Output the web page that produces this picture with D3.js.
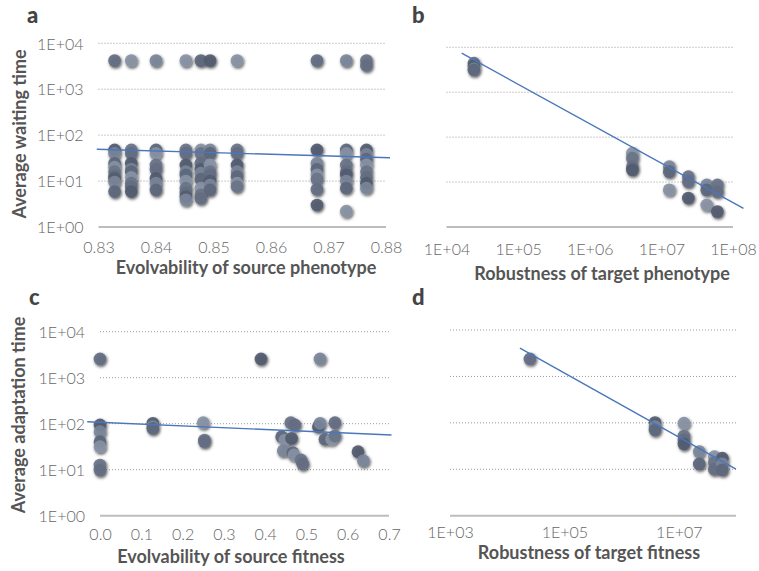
<!DOCTYPE html>
<html><head><meta charset="utf-8">
<script src="https://cdn.jsdelivr.net/npm/d3@7"></script>
<style>
body{margin:0;background:#fff;}
svg{display:block;font-family:Lato,"Open Sans",sans-serif;}
.tick text{font-family:Lato,"Open Sans",sans-serif;font-weight:300;fill:#666;font-size:16px;}
</style></head><body>
<svg id="c" width="759" height="571"></svg>
<script>
// ---------- data ----------
const yTicks = [1, 10, 100, 1000, 10000];
const aXTicks = [0.83, 0.84, 0.85, 0.86, 0.87, 0.88];
const bXTicks = [1e4, 1e5, 1e6, 1e7, 1e8];
const cXTicks = [0, 0.1, 0.2, 0.3, 0.4, 0.5, 0.6, 0.7];
const dXTicks = [1e3, 1e5, 1e7];

// panel a: evolvability of source phenotype (columns) vs waiting time
const aX = [0.8328, 0.8357, 0.8400, 0.8452, 0.8478, 0.8494, 0.8541, 0.8680, 0.8731, 0.8766];
const aY = [
  [4200, 47.6, 40, 24.4, 20, 16.0, 13, 11.5, 9.5, 5.9],
  [4200, 47.6, 40, 24.4, 18, 16.0, 12, 9.0, 7.5, 5.9],
  [4200, 47.6, 40, 22.4, 18, 11.5, 9, 6.4],
  [4200, 47.6, 40, 22.4, 16, 13.6, 10, 7.0, 5.5, 4.6, 3.9],
  [4200, 47.6, 40, 24.4, 18, 14.8, 11, 7.0, 5, 4.2],
  [4200, 47.6, 40, 22.4, 16, 13.6, 10, 8.2, 6.4],
  [4200, 47.6, 40, 22.4, 16, 12.5, 9, 7.6],
  [4200, 47.6, 24.4, 18, 13.6, 11, 6.6, 3.0],
  [4200, 47.6, 40, 22.4, 16, 13.6, 10, 7.0, 2.2],
  [4200, 3300, 47.6, 38, 30, 22.4, 16, 12, 9.0, 7.0]
];
const aTrend = [[0.8297, 49.3], [0.8807, 32.3]];

// panel b: robustness of target phenotype vs waiting time
const bX = [24200, 24200, 24200, 24200, 3.94e6, 3.94e6, 3.94e6, 3.94e6, 1.29e7, 1.29e7, 1.29e7, 2.38e7, 2.38e7, 2.38e7, 4.3e7, 4.3e7, 4.3e7, 6.05e7, 6.05e7, 6.05e7];
const bY = [4420, 3900, 3300, 3140, 43.8, 34, 22, 18.6, 22, 17, 6.7, 13.2, 10.2, 4.4, 8.6, 6.7, 3.1, 8.6, 6.1, 2.2];
const bTrend = [[16300, 7390], [1.4e8, 2.61]];

// panel c: evolvability of source fitness vs adaptation time
const cX = [0, 0, 0, 0, 0, 0, 0, 0.128, 0.128, 0.128, 0.250, 0.253, 0.253, 0.39, 0.533,
            0.44, 0.448, 0.462, 0.472, 0.464, 0.444, 0.467, 0.470, 0.487, 0.491,
            0.529, 0.533, 0.545, 0.561, 0.569, 0.569, 0.625, 0.638];
const cY = [2550, 94, 67, 40.6, 31.6, 12.6, 9.8, 102, 86, 79, 105, 44, 40.6, 2550, 2550,
            52, 44, 105, 94, 48, 25.9, 23.4, 20.9, 16.3, 13.3,
            86, 102, 46, 46, 54, 105, 24.6, 15.7];
const cTrend = [[-0.031, 110], [0.706, 56.8]];

// panel d: robustness of target fitness vs adaptation time
const dX = [25000, 3.84e6, 3.84e6, 3.84e6, 1.23e7, 1.23e7, 1.23e7, 1.23e7, 2.28e7, 2.28e7, 4.18e7, 4.18e7, 4.18e7, 5.77e7, 5.77e7, 5.77e7];
const dY = [2380, 101, 83, 70, 98, 52, 43, 35, 24, 13, 18.7, 13.9, 10, 17.3, 13, 9.7];
const dTrend = [[16700, 4050], [1e8, 10.1]];

// ---------- drawing ----------
const svg = d3.select("#c");
const defs = svg.append("defs");
const f = defs.append("filter").attr("id","sh").attr("x","-50%").attr("y","-50%").attr("width","200%").attr("height","200%");
f.append("feDropShadow").attr("dx",1).attr("dy",1.5).attr("stdDeviation",1.4).attr("flood-color","#000").attr("flood-opacity",0.7);

const shades = ["#646e82","#525c70","#7b8699","#5d677c","#8893a5","#6a7488"];
const fmtE = d => "1E+" + String(Math.round(Math.log10(d))).padStart(2,"0");

function panel(o){
  const g = svg.append("g");
  const x = o.xs, y = o.ys;
  const [x0,x1] = x.range();
  g.selectAll("line.grid").data(yTicks.slice(1)).join("line")
    .attr("x1",x0).attr("x2",x1).attr("y1",d=>y(d)).attr("y2",d=>y(d))
    .attr("stroke","#9a9a9a").attr("stroke-width",1).attr("stroke-dasharray","1,2");
  g.append("line").attr("x1",x0).attr("x2",x1).attr("y1",y(1)).attr("y2",y(1))
    .attr("stroke","#bdbdbd").attr("stroke-width",2);
  if(o.yLabels){
    const ya = g.append("g").attr("transform",`translate(${x0},0)`)
      .call(d3.axisLeft(y).tickValues(yTicks).tickFormat(fmtE).tickSize(0).tickPadding(15));
    ya.select(".domain").remove();
    ya.selectAll("text").attr("dy","0.36em");
  }
  const xa = g.append("g").attr("transform",`translate(0,${y(1)})`)
    .call(d3.axisBottom(x).tickValues(o.xTicks).tickFormat(o.xFmt).tickSize(0));
  xa.select(".domain").remove();
  xa.selectAll("text").attr("y",o.tickBase - y(1)).attr("dy","0");
  g.append("g").attr("filter","url(#sh)").selectAll("circle").data(o.pts).join("circle")
    .attr("cx",d=>x(d[0])).attr("cy",d=>y(d[1])).attr("r",6.4)
    .attr("fill",(d,i)=>shades[i%shades.length]).attr("fill-opacity",0.92);
  g.append("path").datum(o.trend)
    .attr("d",d3.line().x(d=>x(d[0])).y(d=>y(d[1])))
    .attr("stroke","#4a76bc").attr("stroke-width",1.4).attr("fill","none");
  g.append("text").attr("x",o.titleX).attr("y",o.titleY).attr("text-anchor","middle")
    .attr("font-weight",700).attr("font-size",18).attr("fill","#555").text(o.xTitle);
  g.append("text").attr("x",o.letter[0]).attr("y",o.letter[1])
    .attr("font-weight",900).attr("font-size",22).attr("fill","#444").text(o.letter[2]);
}

const aPts = aX.flatMap((xv,i)=>aY[i].map(v=>[xv,v]));
panel({
  xs: d3.scaleLinear().domain([0.83,0.88]).range([98.5,386]),
  ys: d3.scaleLog().domain([1,1e4]).range([227,43.3]),
  yLabels:true, xTicks:aXTicks, xFmt:d3.format(".2f"), tickBase:253,
  pts:aPts, trend:aTrend, xTitle:"Evolvability of source phenotype", titleX:246, titleY:274,
  letter:[27,23,"a"]
});
panel({
  xs: d3.scaleLog().domain([1e4,1e8]).range([446.5,733]),
  ys: d3.scaleLog().domain([1,1e4]).range([227,47.3]),
  yLabels:false, xTicks:bXTicks, xFmt:fmtE, tickBase:255,
  pts:bX.map((v,i)=>[v,bY[i]]), trend:bTrend, xTitle:"Robustness of target phenotype", titleX:602, titleY:280,
  letter:[412,23,"b"]
});
panel({
  xs: d3.scaleLinear().domain([0,0.7]).range([100,389]),
  ys: d3.scaleLog().domain([1,1e4]).range([515.7,331.7]),
  yLabels:true, xTicks:cXTicks, xFmt:d3.format(".1f"), tickBase:540,
  pts:cX.map((v,i)=>[v,cY[i]]), trend:cTrend, xTitle:"Evolvability of source fitness", titleX:231, titleY:563,
  letter:[29,305,"c"]
});
panel({
  xs: d3.scaleLog().domain([1e3,1e8]).range([450,736]),
  ys: d3.scaleLog().domain([1,1e4]).range([515.7,330]),
  yLabels:false, xTicks:dXTicks, xFmt:fmtE, tickBase:538,
  pts:dX.map((v,i)=>[v,dY[i]]), trend:dTrend, xTitle:"Robustness of target fitness", titleX:589, titleY:559,
  letter:[412,305,"d"]
});

svg.append("text").attr("transform","translate(26,134) rotate(-90)").attr("text-anchor","middle")
  .attr("font-weight",700).attr("font-size",18).attr("fill","#555").text("Average waiting time");
svg.append("text").attr("transform","translate(25,415) rotate(-90)").attr("text-anchor","middle")
  .attr("font-weight",700).attr("font-size",18).attr("fill","#555").text("Average adaptation time");
</script></body></html>
